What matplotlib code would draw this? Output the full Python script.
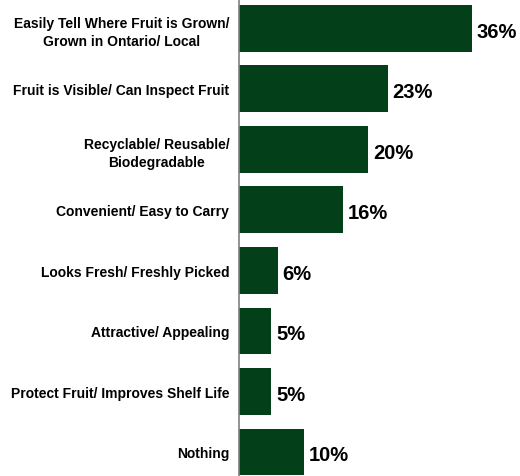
import matplotlib.pyplot as plt

plt.rcParams['font.family'] = ['Liberation Sans', 'DejaVu Sans']

categories = [
    "Easily Tell Where Fruit is Grown/\nGrown in Ontario/ Local",
    "Fruit is Visible/ Can Inspect Fruit",
    "Recyclable/ Reusable/\nBiodegradable",
    "Convenient/ Easy to Carry",
    "Looks Fresh/ Freshly Picked",
    "Attractive/ Appealing",
    "Protect Fruit/ Improves Shelf Life",
    "Nothing",
]
values = [36, 23, 20, 16, 6, 5, 5, 10]

BAR_COLOR = "#033F19"

fig = plt.figure(figsize=(5.2, 4.77), dpi=100)
ax = fig.add_axes([239 / 520, 0, 281 / 520, 1])

y = list(range(len(categories)))
ax.barh(y, values, height=0.77, color=BAR_COLOR, zorder=2)

ax.set_xlim(0, 43.43)
ax.set_ylim(7.4, -0.484)

# percentage labels just past the end of each bar
for yi, v in zip(y, values):
    ax.text(v + 0.75, yi + 0.05, f"{v}%", va="center", ha="left",
            fontsize=14.5, fontweight="bold", color="black")

ax.set_yticks(y)
ax.set_yticklabels(categories, fontsize=10, fontweight="bold",
                   multialignment="center", linespacing=1.35)
ax.tick_params(axis="y", length=0, pad=7)
ax.set_xticks([])

for side in ["top", "right", "bottom"]:
    ax.spines[side].set_visible(False)
ax.spines["left"].set_color("#808080")
ax.spines["left"].set_linewidth(1.2)

fig.savefig("out.png", dpi=100)
